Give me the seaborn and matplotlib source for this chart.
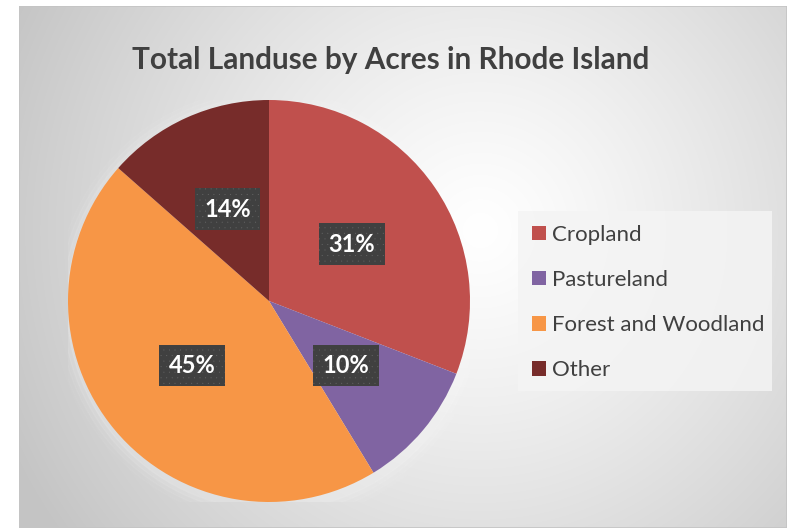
import numpy as np
import matplotlib
matplotlib.use("Agg")
import matplotlib.pyplot as plt
import seaborn as sns
from matplotlib.patches import Rectangle, Circle

categories = ["Cropland", "Pastureland", "Forest and Woodland", "Other"]
shares = [30.9, 10.4, 45.2, 13.5]
colors = ["#C0504D", "#8064A2", "#F79646", "#772C2A"]
title = "Total Landuse by Acres in Rhode Island"

sns.set_style("white")
plt.rcParams['font.family'] = ['Lato', 'DejaVu Sans']
plt.rcParams['hatch.linewidth'] = 0.0

W, H = 789, 528
fig = plt.figure(figsize=(W / 100, H / 100), dpi=100)
fig.patch.set_facecolor('white')

# chart area background (radial gradient)
bx0, by0, bx1, by1 = 19, 6, 787, 528
bg = fig.add_axes([bx0 / W, 1 - by1 / H, (bx1 - bx0) / W, (by1 - by0) / H])
yy, xx = np.mgrid[by0:by1, bx0:bx1]
d = np.hypot(xx - 480, yy - 230) / 520.0
d = np.clip(d, 0, 1)
v = 1 - 0.23 * d ** 1.2
bg.imshow(np.dstack([v, v, v]), extent=[0, 1, 0, 1], aspect='auto', origin='upper')
bg.set_xlim(0, 1)
bg.set_ylim(0, 1)
bg.set_axis_off()
bg.add_patch(Rectangle((0, 0), 1, 1, transform=bg.transAxes, fill=False,
                       edgecolor='#c4c4c4', linewidth=1.2))

# title
fig.text(391 / W, 1 - 60 / H, title, ha='center', va='center', fontsize=21.4,
         fontweight='bold', color='#404040')

# pie
cxp, cyp, R = 269, 301, 201
ax = fig.add_axes([(cxp - R) / W, 1 - (cyp + R) / H, 2 * R / W, 2 * R / H])
ax.set_axis_off()
# soft glow around pie
for i, a in enumerate([0.10, 0.08, 0.06, 0.04]):
    ax.add_patch(Circle((0.015, -0.02), 1 + 0.02 * (i + 1), color='white', alpha=a, zorder=0))
wedges, texts, autotexts = ax.pie(
    shares, colors=colors, startangle=90, counterclock=False,
    autopct='%.0f%%', pctdistance=0.5,
    wedgeprops=dict(linewidth=0, zorder=2),
    textprops=dict(color='white', fontsize=17, fontweight='bold'))
ax.set_xlim(-1, 1)
ax.set_ylim(-1, 1)
for t in autotexts:
    t.set_zorder(5)
    t.set_bbox(dict(boxstyle='square,pad=0.4', facecolor='#404040',
                    edgecolor='#666666', linewidth=0, hatch='...'))

# legend box
fig.patches.append(Rectangle((518 / W, 1 - 391 / H), (772 - 518) / W, (391 - 211) / H,
                             transform=fig.transFigure, facecolor='#f4f4f4',
                             edgecolor='none', alpha=0.85, zorder=1))
leg = fig.legend(wedges, categories, loc='upper left',
                 bbox_to_anchor=(532 / W, 1 - 225 / H), frameon=False,
                 fontsize=16, labelcolor='#404040', handlelength=0.62,
                 handleheight=0.62, handletextpad=0.3, labelspacing=1.13,
                 borderpad=0, borderaxespad=0)

fig.savefig('out.png', dpi=100)
